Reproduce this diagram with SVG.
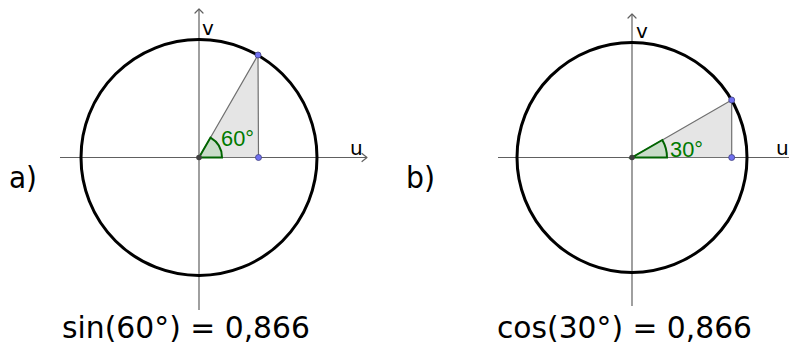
<svg xmlns="http://www.w3.org/2000/svg" width="789" height="345" viewBox="0 0 789 345">
<style>
.axis{stroke:#606060;stroke-width:1.2;fill:none}
.arrow{stroke:#606060;stroke-width:1.2;fill:none;stroke-linecap:round;stroke-linejoin:round}
.circle{stroke:#000;stroke-width:3;fill:none}
.tri{fill:#e5e5e5;stroke:#707070;stroke-width:1.2}
.sector{fill:#c8dcc8;stroke:#006400;stroke-width:2}
.pt{fill:#7070f0;stroke:#404080;stroke-width:0.8}
.origin{fill:#404040}
.ax{font-family:"DejaVu Sans","Liberation Sans",sans-serif;font-size:20px;fill:#000}
.ang{font-family:"Liberation Sans",Arial,sans-serif;font-size:22.5px;fill:#007a00}
.lab{font-family:"DejaVu Sans","Liberation Sans",sans-serif;font-size:30px;fill:#000}
</style>
<g id="diagram-a">
  <g id="a-axes">
    <line class="axis" x1="60" y1="157.5" x2="367" y2="157.5"/>
    <polyline class="arrow" points="362,153.5 367,157.5 362,161.5"/>
    <line class="axis" x1="199" y1="310" x2="199" y2="9"/>
    <polyline class="arrow" points="195,13 199,9 203,13"/>
    <text class="ax" x="202" y="35">v</text>
    <text class="ax" x="350" y="155">u</text>
  </g>
  <polygon class="tri" points="199,157.5 258,55 258.5,157.5"/>
  <path class="sector" d="M199,157.5 L222,157.5 A23,23 0 0 0 210.5,137.6 Z"/>
  <circle class="circle" cx="199" cy="157.5" r="118"/>
  <circle class="origin" cx="199" cy="157.5" r="2.8"/>
  <circle class="pt" cx="258" cy="55" r="3"/>
  <circle class="pt" cx="258.5" cy="157.5" r="3"/>
  <text class="ang" x="221" y="146" textLength="33" lengthAdjust="spacingAndGlyphs">60°</text>
  <text class="lab" x="9" y="188" textLength="28" lengthAdjust="spacingAndGlyphs">a)</text>
  <text class="lab" x="62" y="338" textLength="248" lengthAdjust="spacingAndGlyphs">sin(60°) = 0,866</text>
</g>
<g id="diagram-b">
  <g id="b-axes">
    <line class="axis" x1="498" y1="157.5" x2="789" y2="157.5"/>
    <line class="axis" x1="632" y1="306" x2="632" y2="14"/>
    <polyline class="arrow" points="628,18 632,14 636,18"/>
    <text class="ax" x="636" y="38">v</text>
    <text class="ax" x="776" y="155">u</text>
  </g>
  <polygon class="tri" points="632,157.5 731.7,100 731.7,157.5"/>
  <path class="sector" d="M632,157.5 L667,157.5 A35,35 0 0 0 662.3,140 Z"/>
  <circle class="circle" cx="632" cy="157.5" r="115"/>
  <circle class="origin" cx="632" cy="157.5" r="2.8"/>
  <circle class="pt" cx="731.7" cy="100" r="3"/>
  <circle class="pt" cx="731.7" cy="157.5" r="3"/>
  <text class="ang" x="670" y="157" textLength="33" lengthAdjust="spacingAndGlyphs">30°</text>
  <text class="lab" x="406" y="188" textLength="29" lengthAdjust="spacingAndGlyphs">b)</text>
  <text class="lab" x="497" y="338" textLength="255" lengthAdjust="spacingAndGlyphs">cos(30°) = 0,866</text>
</g>
</svg>
